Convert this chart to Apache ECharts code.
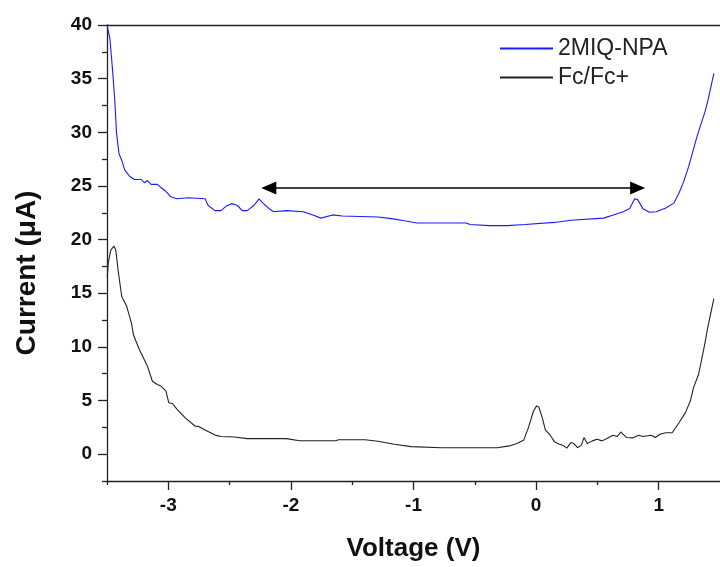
<!DOCTYPE html>
<html>
<head>
<meta charset="utf-8">
<script src="https://cdn.jsdelivr.net/npm/echarts@6/dist/echarts.min.js"></script>
<style>html,body{margin:0;padding:0;background:#fff;}#c{width:720px;height:567px;}</style>
</head>
<body>
<div id="c"></div>
<script>
// ---- data ----
var seriesNames = ['2MIQ-NPA', 'Fc/Fc+'];
var blueX = [-3.498,-3.476,-3.454,-3.436,-3.422,-3.402,-3.38,-3.356,-3.316,-3.276,-3.22,-3.196,-3.17,-3.14,-3.09,-3.06,-3.02,-2.98,-2.93,-2.836,-2.70,-2.676,-2.62,-2.57,-2.53,-2.484,-2.44,-2.396,-2.356,-2.30,-2.26,-2.236,-2.18,-2.14,-2.036,-1.90,-1.82,-1.756,-1.66,-1.58,-1.29,-1.18,-1.076,-0.97,-0.57,-0.54,-0.38,-0.236,-0.09,0.15,0.284,0.55,0.63,0.71,0.764,0.804,0.83,0.87,0.924,0.98,1.058,1.124,1.164,1.204,1.244,1.276,1.31,1.34,1.38,1.404,1.45];
var blueY = [39.9,38.7,35.7,32.9,29.9,28.0,27.4,26.5,25.9,25.6,25.6,25.3,25.5,25.15,25.15,24.85,24.5,24.0,23.8,23.9,23.8,23.2,22.7,22.7,23.1,23.35,23.2,22.7,22.7,23.2,23.8,23.5,22.9,22.6,22.7,22.6,22.3,22.0,22.3,22.2,22.1,21.95,21.75,21.55,21.55,21.4,21.3,21.3,21.4,21.6,21.8,22.0,22.3,22.6,22.9,23.8,23.7,22.9,22.55,22.6,22.95,23.4,24.3,25.4,26.8,28.1,29.5,30.6,32.0,33.1,35.5];
var blackX = [-3.498,-3.49,-3.47,-3.444,-3.428,-3.41,-3.38,-3.34,-3.30,-3.284,-3.236,-3.17,-3.13,-3.09,-3.06,-3.044,-3.02,-2.996,-2.964,-2.93,-2.864,-2.78,-2.756,-2.70,-2.61,-2.57,-2.46,-2.356,-2.036,-1.93,-1.636,-1.61,-1.396,-1.29,-1.156,-1.02,-0.77,-0.316,-0.22,-0.156,-0.10,-0.062,-0.022,0.004,0.022,0.05,0.076,0.11,0.15,0.19,0.218,0.25,0.284,0.306,0.338,0.37,0.39,0.418,0.458,0.498,0.538,0.578,0.626,0.662,0.69,0.738,0.79,0.838,0.87,0.938,0.972,1.01,1.058,1.11,1.164,1.218,1.258,1.284,1.324,1.35,1.378,1.398,1.45];
var blackY = [16.55,17.8,19.0,19.4,19.0,17.2,14.7,13.8,12.2,11.1,9.75,8.2,6.8,6.5,6.35,6.3,5.9,4.8,4.7,4.2,3.4,2.6,2.6,2.25,1.75,1.65,1.6,1.45,1.45,1.25,1.25,1.35,1.35,1.2,0.93,0.7,0.6,0.6,0.77,1.0,1.33,2.5,4.0,4.5,4.4,3.4,2.25,1.86,1.15,0.93,0.84,0.56,1.08,1.0,0.6,0.84,1.55,1.0,1.24,1.4,1.24,1.46,1.76,1.64,2.07,1.55,1.52,1.76,1.64,1.76,1.55,1.86,2.0,2.0,2.9,3.87,4.95,6.2,7.4,8.8,10.4,11.7,14.5];
var arrowStart = [-2.18, 24.8];
var arrowEnd = [0.828, 24.8];
var xTickValues = [-3, -2, -1, 0, 1];
var xMinorTickValues = [-3.5, -2.5, -1.5, -0.5, 0.5];
var yTickValues = [0, 5, 10, 15, 20, 25, 30, 35, 40];
var yMinorTickValues = [-2.5, 2.5, 7.5, 12.5, 17.5, 22.5, 27.5, 32.5, 37.5];
var xTitle = 'Voltage (V)';
var yTitle = 'Current (\u03bcA)';

function pairs(xs, ys) { return xs.map(function (x, i) { return [x, ys[i]]; }); }

var FONT = '"Liberation Sans", Arial, sans-serif';
var AX = '#222';
var chart = echarts.init(document.getElementById('c'), null, { renderer: 'canvas' });
var xRange = { min: -3.5, max: 1.5 };
var yRange = { min: -2.5, max: 40 };
chart.setOption({
  animation: false,
  backgroundColor: '#fff',
  grid: { left: 107, top: 25, width: 625, height: 457 },
  legend: {
    orient: 'vertical', left: 494, top: 32,
    itemWidth: 53, itemHeight: 23, itemGap: 6,
    data: seriesNames,
    itemStyle: { opacity: 0 },
    textStyle: { fontFamily: FONT, fontSize: 23, color: '#222', lineHeight: 23 }
  },
  xAxis: [
    {
      type: 'value', min: xRange.min, max: xRange.max, position: 'bottom',
      name: xTitle, nameLocation: 'middle', nameGap: 55,
      nameTextStyle: { fontFamily: FONT, fontSize: 26, fontWeight: 'bold', color: '#111' },
      axisLine: { show: true, onZero: false, lineStyle: { color: AX, width: 1.3 } },
      axisTick: { show: true, customValues: xTickValues, length: 9, lineStyle: { color: AX, width: 1.3 } },
      axisLabel: { show: true, customValues: xTickValues, margin: 15, fontFamily: FONT, fontSize: 19, fontWeight: 'bold', color: '#111' },
      splitLine: { show: false }
    },
    {
      type: 'value', min: xRange.min, max: xRange.max, position: 'bottom',
      axisLine: { show: false, onZero: false },
      axisTick: { show: true, customValues: xMinorTickValues, length: 4, lineStyle: { color: AX, width: 1.3 } },
      axisLabel: { show: false }, splitLine: { show: false }
    },
    {
      type: 'value', min: xRange.min, max: xRange.max, position: 'top',
      axisLine: { show: true, onZero: false, lineStyle: { color: AX, width: 1.3 } },
      axisTick: { show: false }, axisLabel: { show: false }, splitLine: { show: false }
    }
  ],
  yAxis: [
    {
      type: 'value', min: yRange.min, max: yRange.max, position: 'left',
      axisLine: { show: true, onZero: false, lineStyle: { color: AX, width: 1.3 } },
      axisTick: { show: true, customValues: yTickValues, length: 9, lineStyle: { color: AX, width: 1.3 } },
      axisLabel: { show: true, customValues: yTickValues, margin: 15, fontFamily: FONT, fontSize: 19, fontWeight: 'bold', color: '#111' },
      splitLine: { show: false }
    },
    {
      type: 'value', min: yRange.min, max: yRange.max, position: 'left',
      axisLine: { show: false, onZero: false },
      axisTick: { show: true, customValues: yMinorTickValues, length: 5, lineStyle: { color: AX, width: 1.3 } },
      axisLabel: { show: false }, splitLine: { show: false }
    }
  ],
  graphic: [{
    type: 'text', x: 27, y: 273, rotation: Math.PI / 2,
    style: { text: yTitle, fontFamily: FONT, fontSize: 28, fontWeight: 'bold', fill: '#111', align: 'center', verticalAlign: 'middle' }
  }],
  series: [
    {
      name: seriesNames[0], type: 'line', data: pairs(blueX, blueY), xAxisIndex: 0, yAxisIndex: 0,
      symbol: 'none', smooth: false, clip: true,
      lineStyle: { color: '#1a1aff', width: 1.1 }, itemStyle: { color: '#1a1aff' },
      markLine: {
        silent: true, symbol: ['triangle', 'triangle'], symbolSize: [13, 15],
        label: { show: false },
        lineStyle: { color: '#000', width: 1.6, type: 'solid' },
        data: [[{ coord: arrowStart }, { coord: arrowEnd }]]
      }
    },
    {
      name: seriesNames[1], type: 'line', data: pairs(blackX, blackY), xAxisIndex: 0, yAxisIndex: 0,
      symbol: 'none', smooth: false, clip: true,
      lineStyle: { color: '#222', width: 1.1 }, itemStyle: { color: '#333' }
    }
  ]
});
</script>
</body>
</html>
